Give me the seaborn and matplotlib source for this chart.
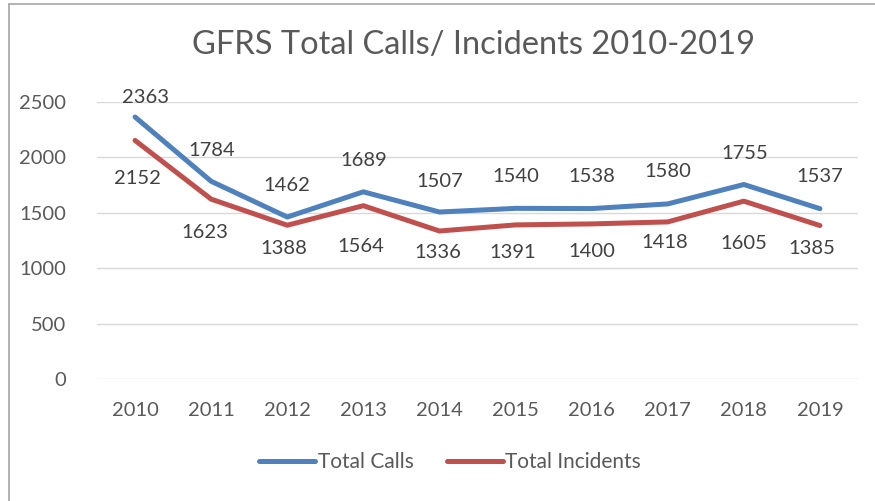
import matplotlib
matplotlib.use("Agg")
import matplotlib.pyplot as plt
import seaborn as sns
import pandas as pd
from matplotlib.lines import Line2D

years = ["2010", "2011", "2012", "2013", "2014", "2015", "2016", "2017", "2018", "2019"]
total_calls = [2363, 1784, 1462, 1689, 1507, 1540, 1538, 1580, 1755, 1537]
total_incidents = [2152, 1623, 1388, 1564, 1336, 1391, 1400, 1418, 1605, 1385]
series_names = ["Total Calls", "Total Incidents"]
title_text = "GFRS Total Calls/ Incidents 2010-2019"
y_ticks = [0, 500, 1000, 1500, 2000, 2500]

# label offsets in screen pixels (dx, dy; positive dy = down on screen)
calls_off = [(10, -20), (1, -31), (0, -32), (0, -31), (0, -31), (0, -32), (0, -32), (0, -32), (1, -31), (0, -32)]
inc_off = [(2, 38), (-6, 33), (-3, 23), (-3, 41), (-2, 21), (-3, 28), (0, 28), (-3, 21), (0, 42), (-8, 23)]

sns.set_theme(style="white")
plt.rcParams["font.family"] = ["Lato", "DejaVu Sans"]

W, H = 875, 501
fig = plt.figure(figsize=(W / 100, H / 100), dpi=100)
ax = fig.add_axes([97 / W, 1 - 379.3 / H, (858 - 97) / W, (379.3 - 101.8) / H])

df = pd.DataFrame({
    "Year": years * 2,
    "Value": total_calls + total_incidents,
    "Series": [series_names[0]] * len(years) + [series_names[1]] * len(years),
})
colors = {"Total Calls": "#4F81BD", "Total Incidents": "#C0504D"}
df["x"] = list(range(len(years))) * 2
sns.lineplot(data=df, x="x", y="Value", hue="Series", palette=colors, ax=ax,
             linewidth=3.6, legend=False, sort=False)
for ln in ax.lines:
    ln.set_solid_capstyle("round")
    ln.set_solid_joinstyle("round")

ax.set_xlim(-0.5, len(years) - 0.5)
ax.set_ylim(0, 2500)
ax.set_yticks(y_ticks)
ax.set_yticklabels([str(t) for t in y_ticks])
ax.set_xticks(range(len(years)))
ax.set_xticklabels(years)
ax.grid(axis="y", color="#D9D9D9", linewidth=1.0)
ax.set_axisbelow(True)
for s in ax.spines.values():
    s.set_visible(False)
ax.tick_params(axis="both", length=0, labelsize=14.5, colors="#595959")
ax.tick_params(axis="y", pad=22)
ax.tick_params(axis="x", pad=16)
ax.set_xlabel("")
ax.set_ylabel("")

for i, v in enumerate(total_calls):
    ax.annotate(str(v), (i, v), xytext=(calls_off[i][0], -calls_off[i][1]), textcoords="offset pixels",
                ha="center", va="center", fontsize=14.5, color="#404040")
for i, v in enumerate(total_incidents):
    ax.annotate(str(v), (i, v), xytext=(inc_off[i][0], -inc_off[i][1]), textcoords="offset pixels",
                ha="center", va="center", fontsize=14.5, color="#404040")

fig.text(473 / W, 1 - 45 / H, title_text, ha="center", va="center", fontsize=23.5, color="#595959")

handles = [Line2D([0], [0], color=colors[n], linewidth=3.6, solid_capstyle="round") for n in series_names]
fig.legend(handles, series_names, loc="center", bbox_to_anchor=(450 / W, 1 - 462 / H), ncol=2,
           frameon=False, fontsize=15, labelcolor="#595959", handlelength=2.7, handletextpad=0.1,
           columnspacing=1.6)

# chart border (top and left visible)
fig.add_artist(Line2D([9 / W, 1.0], [1 - 4 / H, 1 - 4 / H], color="#A6A6A6", linewidth=1.2, transform=fig.transFigure))
fig.add_artist(Line2D([9 / W, 9 / W], [0, 1 - 4 / H], color="#A6A6A6", linewidth=1.2, transform=fig.transFigure))

fig.savefig("out.png", dpi=100)
